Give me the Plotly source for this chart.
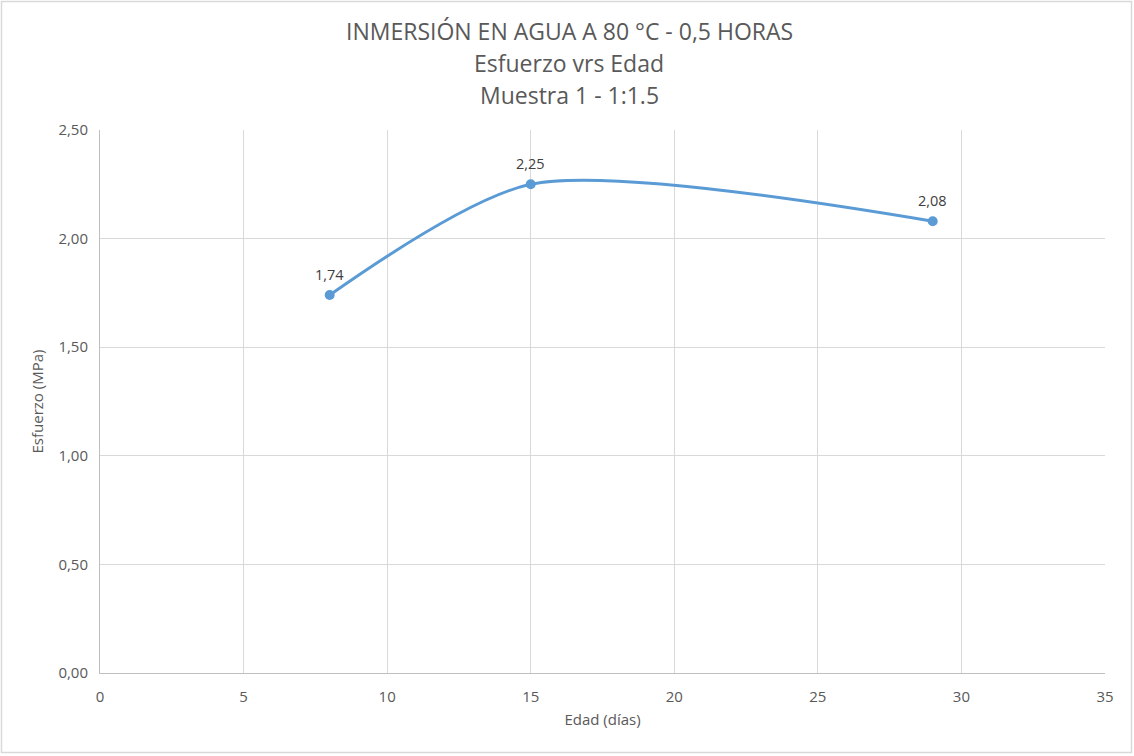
import plotly.graph_objects as go

edad = [8, 15, 29]
esfuerzo = [1.74, 2.25, 2.08]
etiquetas = ["1,74", "2,25", "2,08"]

x_ticks = [0, 5, 10, 15, 20, 25, 30, 35]
y_ticks = [0, 0.5, 1.0, 1.5, 2.0, 2.5]

titulo = ["INMERSIÓN EN AGUA A 80 °C - 0,5 HORAS", "Esfuerzo vrs Edad", "Muestra 1 - 1:1.5"]

W, H = 1134, 756
ml, mr, mt, mb = 100, 29, 130, 83
pw, ph = W - ml - mr, H - mt - mb

FONT = "Open Sans, Liberation Sans, sans-serif"
GREY = "#595959"


def py(pix):
    """page pixel y -> paper y"""
    return (mt + ph - pix) / ph


def px(pix):
    return (pix - ml) / pw


fig = go.Figure()
fig.add_trace(go.Scatter(
    x=edad, y=esfuerzo, mode="lines+markers",
    line=dict(color="#5B9BD5", width=3, shape="spline", smoothing=0.75),
    marker=dict(color="#5B9BD5", size=10),
    showlegend=False, cliponaxis=False,
))

for xv, yv, t in zip(edad, esfuerzo, etiquetas):
    fig.add_annotation(x=xv, y=yv, text=t, showarrow=False, yshift=21,
                       font=dict(family=FONT, size=14.5, color="#404040"))

for i, (line, ypix) in enumerate(zip(titulo, [31, 63, 95])):
    fig.add_annotation(xref="paper", yref="paper", x=px(569), y=py(ypix),
                       xanchor="center", yanchor="middle", text=line, showarrow=False,
                       font=dict(family=FONT, size=23, color=GREY))

fig.update_layout(
    width=W, height=H,
    margin=dict(l=ml, r=mr, t=mt, b=mb),
    paper_bgcolor="white", plot_bgcolor="white",
    separators=",.",
    xaxis=dict(
        range=[0, 35], tickvals=x_ticks, showgrid=True, gridcolor="#D9D9D9",
        showline=True, linecolor="#BFBFBF", zeroline=False,
        tickfont=dict(family=FONT, size=15, color=GREY), ticks="", ticklabelstandoff=10,
        title=dict(text="Edad (días)", font=dict(family=FONT, size=15, color=GREY), standoff=9),
    ),
    yaxis=dict(
        range=[0, 2.5], tickvals=y_ticks, tickformat=".2f", showgrid=True, gridcolor="#D9D9D9",
        showline=True, linecolor="#BFBFBF", zeroline=False,
        tickfont=dict(family=FONT, size=15, color=GREY), ticks="", ticklabelstandoff=8,
        title=dict(text="Esfuerzo (MPa)", font=dict(family=FONT, size=15, color=GREY), standoff=11),
    ),
)

# outer chart border
fig.add_shape(
    type="rect", xref="paper", yref="paper",
    x0=px(1.5), x1=px(W - 2.5), y0=py(H - 3.5), y1=py(1.5),
    line=dict(color="#D9D9D9", width=1.5), fillcolor="rgba(0,0,0,0)", layer="below",
)

fig.write_html("out.html", config={"displayModeBar": False},
               post_script="document.body.style.margin='0';document.body.style.overflow='hidden';")
